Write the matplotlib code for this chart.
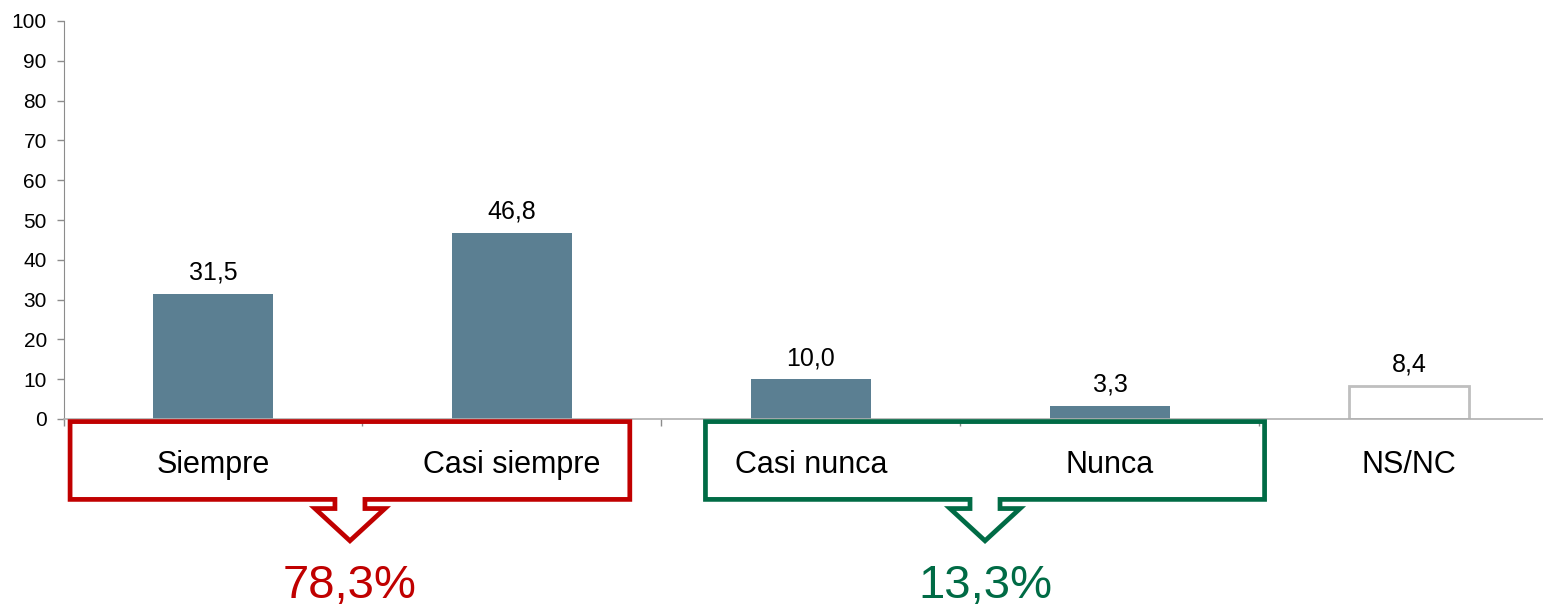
import matplotlib
matplotlib.use("Agg")
import matplotlib.pyplot as plt
from matplotlib.patches import Polygon

plt.rcParams['font.family'] = ['Liberation Sans', 'DejaVu Sans']

categories = ["Siempre", "Casi siempre", "Casi nunca", "Nunca", "NS/NC"]
values = [31.5, 46.8, 10.0, 3.3, 8.4]
value_labels = ["31,5", "46,8", "10,0", "3,3", "8,4"]
group_labels = ["78,3%", "13,3%"]
yticks = [0, 10, 20, 30, 40, 50, 60, 70, 80, 90, 100]

BAR = "#5B7F92"
RED = "#C00000"
GREEN = "#006B45"
GRAY = "#8C8C8C"

W, H, DPI = 1543, 606, 100
fig = plt.figure(figsize=(W / DPI, H / DPI), dpi=DPI)
ax = fig.add_axes([63.5 / W, 1 - 419 / H, 1495 / W, 398 / H])

x = list(range(len(categories)))
colors = [BAR, BAR, BAR, BAR, "white"]
edges = [BAR, BAR, BAR, BAR, "#BFBFBF"]
lws = [0, 0, 0, 0, 2]
for xi, v, c, e, lw in zip(x, values, colors, edges, lws):
    ax.bar(xi, v, width=0.4, color=c, edgecolor=e, linewidth=lw, zorder=2)
for xi, v, lab in zip(x, values, value_labels):
    ax.annotate(lab, (xi, v), xytext=(0, 10), textcoords="offset points",
                ha="center", va="baseline", fontsize=18, color="black")

ax.set_xlim(-0.5, len(categories) - 0.5)
ax.set_ylim(0, 100)
ax.set_yticks(yticks)
ax.set_yticklabels([str(t) for t in yticks], fontsize=15)
ax.tick_params(axis="y", length=5, color=GRAY, width=1, pad=7)
ax.set_xticks([i - 0.5 for i in range(len(categories) + 1)])
ax.set_xticklabels([])
ax.tick_params(axis="x", length=5, color=GRAY, width=1)
for s in ["top", "right"]:
    ax.spines[s].set_visible(False)
ax.spines["left"].set_color(GRAY)
ax.spines["bottom"].set_color("#B0B0B0")
ax.spines["bottom"].set_linewidth(1.2)

# category labels
for xi, lab in zip(x, categories):
    ax.text(xi, -11.6, lab, ha="center", va="center", fontsize=22, color="black")


def callout(x0, x1, color):
    # y coords in data units (px / 3.98 below zero line)
    ytop, ybot, ynotch, ytip = -0.65, -20.2, -22.5, -30.6
    xc = (x0 + x1) / 2
    hn = 15 / 299.0
    ha = 35 / 299.0
    pts = [(x0, ytop), (x1, ytop), (x1, ybot), (xc + hn, ybot), (xc + hn, ynotch),
           (xc + ha, ynotch), (xc, ytip), (xc - ha, ynotch), (xc - hn, ynotch),
           (xc - hn, ybot), (x0, ybot)]
    p = Polygon(pts, closed=True, fill=False, edgecolor=color, linewidth=3.4,
                joinstyle="miter", clip_on=False, zorder=3)
    ax.add_patch(p)
    return xc


c1 = callout(-0.478, 1.394, RED)
c2 = callout(1.647, 3.517, GREEN)
ax.text(c1, -45.0, group_labels[0], ha="center", va="baseline", fontsize=34, color=RED)
ax.text(c2, -45.0, group_labels[1], ha="center", va="baseline", fontsize=34, color=GREEN)

fig.savefig("out.png", dpi=DPI)
